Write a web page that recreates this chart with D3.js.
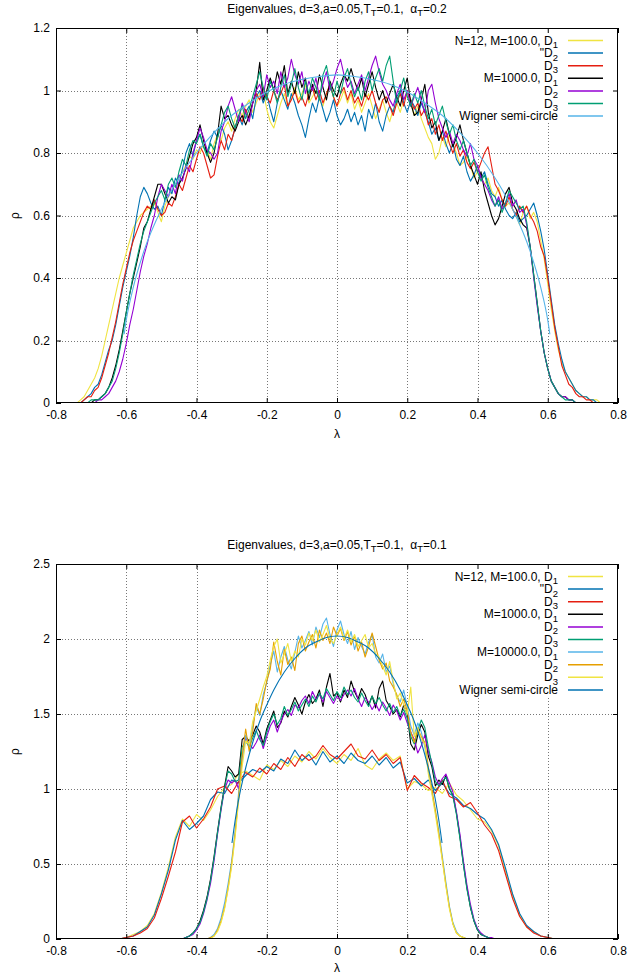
<!DOCTYPE html>
<html><head><meta charset="utf-8">
<script src="https://cdn.jsdelivr.net/npm/d3@7"></script>
<style>
body{margin:0;background:#fff}
svg{display:block}
text{font-family:"Liberation Sans",Arial,sans-serif;font-size:12px;fill:#000;white-space:pre}
</style></head><body>
<svg id="chart" width="628" height="977"></svg>
<script>
// ---------- tick labels ----------
const xTickVals = [-0.8,-0.6,-0.4,-0.2,0,0.2,0.4,0.6,0.8];
const xTickLabels = ["-0.8","-0.6","-0.4","-0.2","0","0.2","0.4","0.6","0.8"];
const yTickValsTop = [0,0.2,0.4,0.6,0.8,1.0,1.2];
const yTickLabelsTop = ["0","0.2","0.4","0.6","0.8","1","1.2"];
const yTickValsBot = [0,0.5,1.0,1.5,2.0,2.5];
const yTickLabelsBot = ["0","0.5","1","1.5","2","2.5"];

// ---------- bins (histogram centres) ----------
const binsTop = d3.range(-76, 77).map(i => i / 100);        // -0.76 .. 0.76
const binsA = d3.range(-31, 32).map(i => i / 50);           // -0.62 .. 0.62 step 0.02
const binsB = d3.range(-46, 47).map(i => i / 100);          // -0.46 .. 0.46
const binsC = d3.range(-38, 39).map(i => i / 100);          // -0.38 .. 0.38

// ---------- top panel: alpha_T = 0.2 ----------
const topM100D1 = [0,0,0,0.01,0.02,0.04,0.06,0.08,0.11,0.15,
0.20,0.25,0.30,0.35,0.40,0.44,0.48,0.52,0.56,0.58,
0.60,0.61,0.62,0.63,0.64,0.61,0.58,0.63,0.66,0.68,
0.70,0.72,0.74,0.76,0.79,0.78,0.81,0.80,0.83,0.81,
0.78,0.83,0.86,0.84,0.88,0.90,0.87,0.91,0.94,0.92,
0.95,0.97,0.93,0.96,0.99,1.00,0.94,0.90,0.88,0.92,
0.96,0.99,0.95,0.98,1.01,0.97,0.99,1.02,0.96,0.98,
1.00,0.97,0.95,0.99,1.02,0.98,0.95,0.97,1.00,0.96,
0.99,0.94,0.97,0.93,0.96,0.99,0.95,0.91,0.94,0.97,
0.93,0.90,0.94,0.96,0.93,0.97,0.99,0.96,0.92,0.95,
0.91,0.88,0.85,0.83,0.78,0.80,0.85,0.82,0.86,0.83,
0.80,0.76,0.77,0.79,0.76,0.72,0.74,0.72,0.70,0.72,
0.68,0.66,0.69,0.65,0.63,0.64,0.62,0.60,0.57,0.61,
0.63,0.59,0.61,0.58,0.52,0.46,0.38,0.30,0.23,0.17,
0.13,0.10,0.08,0.06,0.04,0.03,0.02,0.02,0.01,0.01,
0.01,0,0];
const topM100D2 = [0,0,0,0,0.01,0.02,0.03,0.05,0.06,0.09,
0.13,0.17,0.20,0.25,0.31,0.37,0.42,0.47,0.53,0.60,
0.66,0.69,0.67,0.64,0.62,0.63,0.60,0.65,0.69,0.67,
0.72,0.70,0.75,0.80,0.83,0.79,0.84,0.86,0.82,0.80,
0.84,0.87,0.85,0.89,0.86,0.81,0.84,0.88,0.92,0.89,
0.93,0.95,0.91,0.98,1.00,0.96,0.99,0.94,0.90,0.96,
1.00,0.97,0.94,0.99,0.96,0.92,0.89,0.85,0.91,0.96,
0.93,0.98,0.94,0.90,0.93,0.97,0.92,0.89,0.91,0.94,
0.90,0.93,0.89,0.92,0.87,0.94,0.91,0.96,0.90,0.87,
0.92,0.95,0.93,0.98,1.00,0.96,0.93,0.97,0.95,0.92,
0.96,0.93,0.90,0.86,0.88,0.84,0.87,0.83,0.80,0.83,
0.78,0.76,0.79,0.74,0.71,0.73,0.76,0.72,0.74,0.70,
0.67,0.66,0.63,0.65,0.62,0.60,0.59,0.61,0.58,0.59,
0.60,0.62,0.64,0.60,0.55,0.49,0.41,0.33,0.25,0.19,
0.14,0.10,0.08,0.06,0.04,0.03,0.02,0.02,0.01,0.01,
0,0,0];
const topM100D3 = [0,0,0,0,0.01,0.02,0.02,0.04,0.05,0.08,
0.12,0.16,0.21,0.26,0.32,0.38,0.43,0.48,0.52,0.55,
0.58,0.61,0.63,0.62,0.65,0.62,0.60,0.61,0.64,0.63,
0.66,0.70,0.68,0.72,0.76,0.74,0.78,0.82,0.80,0.76,
0.72,0.73,0.79,0.84,0.81,0.86,0.84,0.88,0.92,0.90,
0.94,0.91,0.96,0.99,0.97,1.01,0.98,0.96,1.00,0.97,
0.99,1.02,0.95,0.97,1.00,0.96,0.98,0.95,0.99,1.01,
0.97,1.00,0.96,0.99,1.02,0.98,0.95,0.99,1.01,0.97,
1.00,0.96,0.98,0.95,0.99,0.97,1.00,0.96,0.93,0.97,
0.98,0.95,0.92,0.96,0.99,0.95,1.00,0.97,0.94,0.96,
0.92,0.94,0.89,0.91,0.86,0.89,0.84,0.87,0.83,0.80,
0.83,0.79,0.81,0.77,0.75,0.77,0.74,0.77,0.80,0.82,
0.76,0.70,0.68,0.65,0.63,0.66,0.62,0.60,0.63,0.61,
0.63,0.60,0.58,0.55,0.50,0.47,0.40,0.32,0.24,0.18,
0.12,0.09,0.06,0.05,0.03,0.02,0.02,0.01,0.01,0,
0,0,0];
const topM1000D1 = [0,0,0,0,0,0,0,0.01,0.01,0.02,
0.03,0.05,0.08,0.12,0.17,0.23,0.29,0.35,0.40,0.45,
0.50,0.56,0.58,0.62,0.66,0.70,0.70,0.67,0.64,0.66,
0.65,0.70,0.72,0.75,0.79,0.83,0.85,0.89,0.84,0.80,
0.77,0.80,0.86,0.95,0.91,0.92,0.89,0.87,0.90,0.92,
0.89,0.92,0.96,1.00,1.09,0.97,1.00,1.04,1.00,1.06,
1.02,1.08,0.99,1.03,0.99,1.06,1.01,1.04,0.97,1.02,
0.99,1.05,1.01,0.97,1.03,1.00,0.98,1.02,1.05,1.03,
1.07,1.03,1.00,1.04,0.98,1.02,1.06,1.01,0.97,1.00,
0.96,0.99,1.02,0.98,0.95,1.00,1.04,0.96,0.92,0.93,
0.97,1.02,0.93,0.88,0.90,0.84,0.87,0.91,0.86,0.82,
0.85,0.89,0.84,0.80,0.76,0.73,0.70,0.74,0.68,0.64,
0.60,0.57,0.59,0.63,0.67,0.69,0.64,0.62,0.59,0.57,
0.56,0.50,0.41,0.32,0.23,0.16,0.11,0.07,0.05,0.03,
0.02,0.02,0.01,0.01,0,0,0,0,0,0,
0,0,0];
const topM1000D2 = [0,0,0,0,0,0,0,0,0.01,0.01,
0.02,0.03,0.05,0.07,0.10,0.14,0.19,0.25,0.30,0.36,
0.42,0.47,0.51,0.56,0.60,0.66,0.70,0.68,0.66,0.70,
0.67,0.73,0.71,0.76,0.74,0.80,0.84,0.88,0.85,0.81,
0.80,0.78,0.80,0.87,0.90,0.95,0.98,0.94,0.90,0.96,
0.93,0.90,0.96,1.00,1.02,0.98,1.05,1.01,1.03,0.99,
1.06,1.01,1.04,1.10,1.05,1.02,1.06,0.99,1.03,1.00,
1.04,0.98,1.02,1.06,1.00,1.03,1.07,1.10,1.05,1.01,
1.03,0.99,1.02,1.05,1.00,1.04,1.08,1.11,1.06,1.02,
1.00,0.97,0.95,0.99,1.02,0.97,1.00,0.95,0.98,1.01,
0.97,0.93,1.00,1.02,0.96,0.91,0.88,0.85,0.87,0.83,
0.86,0.84,0.81,0.79,0.83,0.78,0.76,0.72,0.70,0.68,
0.65,0.63,0.66,0.62,0.64,0.67,0.63,0.65,0.61,0.62,
0.57,0.50,0.40,0.31,0.23,0.16,0.11,0.07,0.05,0.03,
0.02,0.02,0.01,0.01,0,0,0,0,0,0,
0,0,0];
const topM1000D3 = [0,0,0,0,0,0,0.01,0.01,0.01,0.02,
0.03,0.05,0.07,0.11,0.16,0.22,0.29,0.35,0.41,0.46,
0.51,0.55,0.58,0.61,0.64,0.66,0.68,0.65,0.70,0.72,
0.69,0.74,0.78,0.76,0.81,0.84,0.83,0.86,0.82,0.79,
0.83,0.81,0.85,0.89,0.93,0.95,0.91,0.88,0.92,0.95,
0.91,0.94,0.98,1.02,1.06,1.01,0.97,1.03,1.00,0.96,
1.01,1.05,0.98,1.02,1.07,1.01,0.97,1.03,0.99,1.04,
1.01,0.97,1.05,1.08,1.02,0.98,1.03,0.99,1.04,1.07,
1.02,0.98,1.01,0.97,1.03,1.06,1.00,1.04,1.07,1.03,
1.08,1.11,1.03,0.96,1.00,1.04,0.98,0.95,0.99,0.96,
1.00,0.95,0.91,0.94,0.89,0.92,0.95,0.90,0.86,0.89,
0.84,0.81,0.84,0.80,0.76,0.78,0.74,0.71,0.73,0.69,
0.66,0.63,0.65,0.61,0.64,0.68,0.66,0.64,0.62,0.63,
0.58,0.50,0.41,0.32,0.23,0.16,0.11,0.07,0.05,0.03,
0.02,0.01,0.01,0.01,0,0,0,0,0,0,
0,0,0];
const wignerTopLam = [-0.606,-0.6,-0.58,-0.55,-0.5,-0.45,-0.4,-0.35,-0.3,-0.25,-0.2,-0.15,-0.1,-0.05,0,0.05,0.1,0.15,0.2,0.25,0.3,0.35,0.4,0.45,0.5,0.55,0.58,0.6,0.606];
const wignerTopVal = [0.22,0.265,0.37,0.485,0.62,0.72,0.80,0.865,0.92,0.96,0.995,1.02,1.035,1.045,1.05,1.045,1.035,1.02,0.995,0.96,0.92,0.865,0.80,0.72,0.62,0.485,0.37,0.265,0.22];

// ---------- bottom panel: alpha_T = 0.1 ----------
const botM100D1 = [0,0.01,0.03,0.05,0.09,0.17,0.31,0.48,0.68,0.80,
0.75,0.83,0.79,0.86,0.95,1.01,1.03,1.10,1.12,1.09,
1.06,1.16,1.13,1.19,1.15,1.22,1.18,1.25,1.20,1.27,
1.21,1.17,1.23,1.19,1.27,1.16,1.13,1.20,1.24,1.19,
1.22,1.00,1.05,1.03,0.99,1.01,0.97,1.04,0.96,0.92,
0.86,0.80,0.78,0.72,0.62,0.45,0.29,0.16,0.08,0.05,
0.02,0.01,0];
const botM100D2 = [0,0.01,0.02,0.05,0.08,0.16,0.30,0.46,0.66,0.79,
0.73,0.77,0.82,0.93,0.98,0.97,1.06,1.04,1.09,1.13,
1.11,1.15,1.12,1.20,1.17,1.26,1.19,1.23,1.16,1.25,
1.18,1.22,1.17,1.24,1.19,1.17,1.22,1.16,1.21,1.14,
1.18,1.04,1.07,1.02,1.06,0.99,1.04,0.97,0.94,0.89,
0.87,0.83,0.80,0.73,0.63,0.47,0.30,0.17,0.09,0.05,
0.02,0.01,0];
const botM100D3 = [0,0.01,0.02,0.04,0.07,0.14,0.27,0.42,0.58,0.78,
0.82,0.74,0.80,0.88,1.00,1.02,0.97,1.05,1.11,1.08,
1.14,1.10,1.17,1.13,1.21,1.15,1.23,1.19,1.22,1.29,
1.23,1.20,1.25,1.30,1.22,1.20,1.26,1.19,1.23,1.17,
1.21,0.99,1.09,1.04,1.01,0.97,1.06,0.95,0.93,0.88,
0.91,0.84,0.76,0.70,0.59,0.43,0.27,0.15,0.08,0.04,
0.02,0.01,0];
const botM1000D1 = [0,0,0,0.01,0.02,0.04,0.07,0.12,0.19,0.28,
0.40,0.55,0.72,0.88,1.02,1.15,1.12,1.08,1.10,1.33,
1.35,1.32,1.36,1.42,1.38,1.30,1.40,1.46,1.52,1.41,
1.44,1.52,1.48,1.55,1.61,1.56,1.50,1.58,1.63,1.57,
1.60,1.66,1.55,1.68,1.77,1.62,1.64,1.58,1.66,1.61,
1.72,1.65,1.60,1.67,1.63,1.56,1.62,1.54,1.67,1.72,
1.59,1.55,1.50,1.53,1.48,1.56,1.50,1.30,1.26,1.36,
1.43,1.38,1.22,1.15,1.02,1.06,1.03,1.09,1.00,0.96,
0.84,0.68,0.50,0.34,0.21,0.12,0.06,0.03,0.02,0.01,
0,0,0];
const botM1000D2 = [0,0,0,0.01,0.02,0.03,0.06,0.10,0.17,0.26,
0.37,0.52,0.70,0.86,1.00,1.06,1.04,1.06,1.00,1.21,
1.34,1.30,1.27,1.31,1.36,1.27,1.35,1.42,1.46,1.38,
1.45,1.50,1.53,1.49,1.56,1.54,1.59,1.62,1.57,1.65,
1.60,1.63,1.58,1.65,1.61,1.57,1.62,1.59,1.63,1.66,
1.62,1.67,1.60,1.55,1.61,1.58,1.53,1.57,1.52,1.58,
1.54,1.49,1.56,1.52,1.46,1.51,1.44,1.38,1.33,1.24,
1.29,1.36,1.25,1.18,1.08,1.03,1.07,1.10,1.04,0.98,
0.85,0.70,0.52,0.36,0.23,0.13,0.07,0.04,0.02,0.01,
0.01,0,0];
const botM1000D3 = [0,0,0,0.01,0.02,0.04,0.07,0.11,0.18,0.27,
0.39,0.54,0.71,0.87,1.01,1.12,1.10,1.05,1.06,1.28,
1.32,1.28,1.34,1.39,1.33,1.29,1.38,1.45,1.50,1.43,
1.47,1.55,1.49,1.53,1.58,1.52,1.56,1.60,1.55,1.62,
1.58,1.64,1.60,1.67,1.63,1.59,1.65,1.61,1.68,1.63,
1.66,1.61,1.58,1.64,1.59,1.55,1.62,1.57,1.61,1.56,
1.52,1.57,1.51,1.55,1.49,1.53,1.47,1.35,1.30,1.39,
1.46,1.41,1.28,1.17,1.05,1.02,1.05,1.08,1.01,0.95,
0.83,0.67,0.49,0.33,0.21,0.12,0.06,0.03,0.02,0.01,
0,0,0];
const botM10000D1 = [0,0,0.01,0.03,0.07,0.14,0.24,0.37,0.52,0.72,
0.98,1.18,1.36,1.28,1.42,1.55,1.49,1.63,1.71,1.83,
1.92,1.78,1.88,1.95,1.86,1.80,1.91,2.02,1.94,1.99,
2.05,1.96,2.08,2.01,2.10,2.14,2.03,1.95,2.06,2.12,
2.03,1.97,2.05,1.93,2.01,1.95,1.90,1.98,2.03,1.88,
1.84,1.90,1.78,1.82,1.70,1.62,1.58,1.66,1.55,1.42,
1.36,1.44,1.38,1.28,1.12,0.98,0.85,0.72,0.55,0.38,
0.22,0.11,0.05,0.02,0.01,0,0];
const botM10000D2 = [0,0,0.01,0.02,0.06,0.12,0.21,0.34,0.50,0.70,
0.95,1.22,1.40,1.25,1.38,1.57,1.50,1.60,1.72,1.80,
1.98,1.85,1.76,1.93,1.83,1.88,1.79,1.97,2.02,1.92,
1.98,2.03,1.94,2.06,1.99,2.04,1.97,2.08,2.02,2.07,
1.99,2.05,1.96,2.02,1.92,1.98,1.88,1.95,2.04,1.95,
1.86,1.80,1.84,1.72,1.68,1.63,1.55,1.60,1.52,1.38,
1.31,1.40,1.35,1.31,1.15,1.00,0.86,0.70,0.53,0.36,
0.21,0.10,0.04,0.02,0.01,0,0];
const botM10000D3 = [0,0,0,0.02,0.05,0.11,0.20,0.33,0.48,0.68,
0.92,1.15,1.32,1.30,1.45,1.52,1.60,1.68,1.75,1.86,
1.95,2.00,1.84,1.90,1.97,1.85,1.92,1.88,2.00,1.96,
2.04,1.99,2.06,1.98,2.03,2.09,2.00,1.97,2.03,2.08,
2.00,2.06,1.98,2.03,1.95,1.99,2.03,1.94,1.97,1.90,
1.88,1.82,1.76,1.85,1.72,1.60,1.64,1.56,1.50,1.68,
1.35,1.41,1.33,1.30,1.10,0.97,0.83,0.68,0.52,0.35,
0.20,0.10,0.04,0.02,0.01,0,0];
const wignerBotLam = [-0.299,-0.29,-0.28,-0.26,-0.24,-0.22,-0.2,-0.18,-0.15,-0.12,-0.09,-0.06,-0.03,0,0.03,0.06,0.09,0.12,0.15,0.18,0.2,0.22,0.24,0.26,0.28,0.29,0.299];
const wignerBotVal = [0.64,0.79,0.93,1.14,1.31,1.45,1.56,1.66,1.78,1.87,1.94,1.98,2.01,2.02,2.01,1.98,1.94,1.87,1.78,1.66,1.56,1.45,1.31,1.14,0.93,0.79,0.64];

// ---------- colours (gnuplot default linetypes) ----------
const C = {yellow:"#f0e442", blue:"#0072b2", red:"#e51e10", black:"#000000",
           purple:"#9400d3", green:"#009e73", sky:"#56b4e9", orange:"#e69f00"};

const svg = d3.select("#chart");
const plotLeft = 56, plotRight = 618;

function enh(textSel, str, subSize, subShift) {
  const parts = str.split(/_(.)/);
  let down = false;
  parts.forEach((p, i) => {
    if (p === "") return;
    const t = textSel.append("tspan").text(p);
    if (i % 2 === 1) { t.attr("dy", subShift).style("font-size", subSize + "px"); down = true; }
    else if (down) { t.attr("dy", -subShift); down = false; }
  });
}

function panel(o) {
  const x = d3.scaleLinear().domain([-0.8, 0.8]).range([plotLeft, plotRight]);
  const y = d3.scaleLinear().domain([0, o.ymax]).range([o.bottom, o.top]);
  const g = svg.append("g");
  const clipId = "clip" + o.top;
  g.append("clipPath").attr("id", clipId).append("rect")
    .attr("x", plotLeft).attr("y", o.top).attr("width", plotRight - plotLeft).attr("height", o.bottom - o.top);

  // grid (gnuplot skips the key box)
  const grid = g.append("g").attr("stroke", "#777").attr("stroke-width", 1).attr("stroke-dasharray", "1,2").attr("fill", "none");
  xTickVals.slice(1, -1).forEach(v => {
    const px = Math.round(x(v)) + 0.5;
    if (px > o.keyLeft) {
      grid.append("line").attr("x1", px).attr("x2", px).attr("y1", o.bottom).attr("y2", o.keyBottom);
    } else {
      grid.append("line").attr("x1", px).attr("x2", px).attr("y1", o.bottom).attr("y2", o.top);
    }
  });
  o.yVals.slice(1, -1).forEach(v => {
    const py = Math.round(y(v)) + 0.5;
    if (py < o.keyBottom) {
      grid.append("line").attr("x1", plotLeft).attr("x2", o.keyLeft).attr("y1", py).attr("y2", py);
    } else {
      grid.append("line").attr("x1", plotLeft).attr("x2", plotRight).attr("y1", py).attr("y2", py);
    }
  });

  // data
  const dataG = g.append("g").attr("clip-path", `url(#${clipId})`);
  const line = d3.line().x(d => x(d[0])).y(d => y(d[1]));
  o.series.forEach(s => {
    const pts = s.lam.map((l, i) => [l, s.val[i]]);
    dataG.append("path").datum(pts)
      .attr("d", s.smooth ? line.curve(d3.curveMonotoneX)(pts) : line.curve(d3.curveLinear)(pts))
      .attr("fill", "none").attr("stroke", s.color).attr("stroke-width", 1.1).attr("stroke-linejoin", "round");
  });

  // border
  g.append("rect").attr("x", plotLeft + 0.5).attr("y", o.top + 0.5)
    .attr("width", plotRight - plotLeft - 1).attr("height", o.bottom - o.top - 1)
    .attr("fill", "none").attr("stroke", "#000").attr("stroke-width", 1);

  // axes
  const fmtX = (d, i) => xTickLabels[i];
  const fmtY = (d, i) => o.yLabels[i];
  const styleAxis = sel => {
    sel.select(".domain").remove();
    sel.selectAll("text").style("font-size", "12px").style("font-family", '"Liberation Sans",Arial,sans-serif');
    sel.attr("font-family", null).attr("font-size", null);
    sel.selectAll("line").attr("stroke", "#000");
  };
  g.append("g").attr("transform", `translate(0,${o.bottom})`)
    .call(d3.axisBottom(x).tickValues(xTickVals).tickFormat(fmtX).tickSize(-5).tickPadding(7)).call(styleAxis);
  g.append("g").attr("transform", `translate(0,${o.top})`)
    .call(d3.axisTop(x).tickValues(xTickVals).tickFormat("").tickSize(-5)).call(styleAxis);
  g.append("g").attr("transform", `translate(${plotLeft},0)`)
    .call(d3.axisLeft(y).tickValues(o.yVals).tickFormat(fmtY).tickSize(-5).tickPadding(6)).call(styleAxis);
  g.append("g").attr("transform", `translate(${plotRight},0)`)
    .call(d3.axisRight(y).tickValues(o.yVals).tickFormat("").tickSize(-5)).call(styleAxis);

  // title
  const t = g.append("text").attr("x", (plotLeft + plotRight) / 2).attr("y", o.top - 15).attr("text-anchor", "middle");
  enh(t, o.title, 9.5, 3);
  // axis labels
  g.append("text").attr("x", (plotLeft + plotRight) / 2).attr("y", o.bottom + o.xlabGap).attr("text-anchor", "middle").text("λ");
  g.append("text").attr("transform", `translate(19,${(o.top + o.bottom) / 2}) rotate(-90)`).attr("text-anchor", "middle").text("ρ");

  // key
  const key = g.append("g");
  o.series.forEach((s, i) => {
    const ry = o.top + 12.5 + i * 12.6;
    const tt = key.append("text").attr("x", 558).attr("y", ry + 4).attr("text-anchor", "end");
    enh(tt, s.label, 9.5, 3.5);
    key.append("line").attr("x1", 568).attr("x2", 603).attr("y1", ry).attr("y2", ry)
      .attr("stroke", s.color).attr("stroke-width", 1.5);
  });
}

panel({
  top: 28, bottom: 403, ymax: 1.2, yVals: yTickValsTop, yLabels: yTickLabelsTop,
  keyLeft: 427, keyBottom: 122, xlabGap: 35,
  title: "Eigenvalues, d=3,a=0.05,T_T=0.1,  α_T=0.2",
  series: [
    {label: "N=12, M=100.0, D_1", color: C.yellow, lam: binsTop, val: topM100D1},
    {label: "\"D_2", color: C.blue, lam: binsTop, val: topM100D2},
    {label: "D_3", color: C.red, lam: binsTop, val: topM100D3},
    {label: "M=1000.0, D_1", color: C.black, lam: binsTop, val: topM1000D1},
    {label: "D_2", color: C.purple, lam: binsTop, val: topM1000D2},
    {label: "D_3", color: C.green, lam: binsTop, val: topM1000D3},
    {label: "Wigner semi-circle", color: C.sky, lam: wignerTopLam, val: wignerTopVal, smooth: true}
  ]
});

panel({
  top: 564, bottom: 939, ymax: 2.5, yVals: yTickValsBot, yLabels: yTickLabelsBot,
  keyLeft: 423, keyBottom: 697, xlabGap: 33,
  title: "Eigenvalues, d=3,a=0.05,T_T=0.1,  α_T=0.1",
  series: [
    {label: "N=12, M=100.0, D_1", color: C.yellow, lam: binsA, val: botM100D1},
    {label: "\"D_2", color: C.blue, lam: binsA, val: botM100D2},
    {label: "D_3", color: C.red, lam: binsA, val: botM100D3},
    {label: "M=1000.0, D_1", color: C.black, lam: binsB, val: botM1000D1},
    {label: "D_2", color: C.purple, lam: binsB, val: botM1000D2},
    {label: "D_3", color: C.green, lam: binsB, val: botM1000D3},
    {label: "M=10000.0, D_1", color: C.sky, lam: binsC, val: botM10000D1},
    {label: "D_2", color: C.orange, lam: binsC, val: botM10000D2},
    {label: "D_3", color: C.yellow, lam: binsC, val: botM10000D3},
    {label: "Wigner semi-circle", color: C.blue, lam: wignerBotLam, val: wignerBotVal, smooth: true}
  ]
});
</script></body></html>
